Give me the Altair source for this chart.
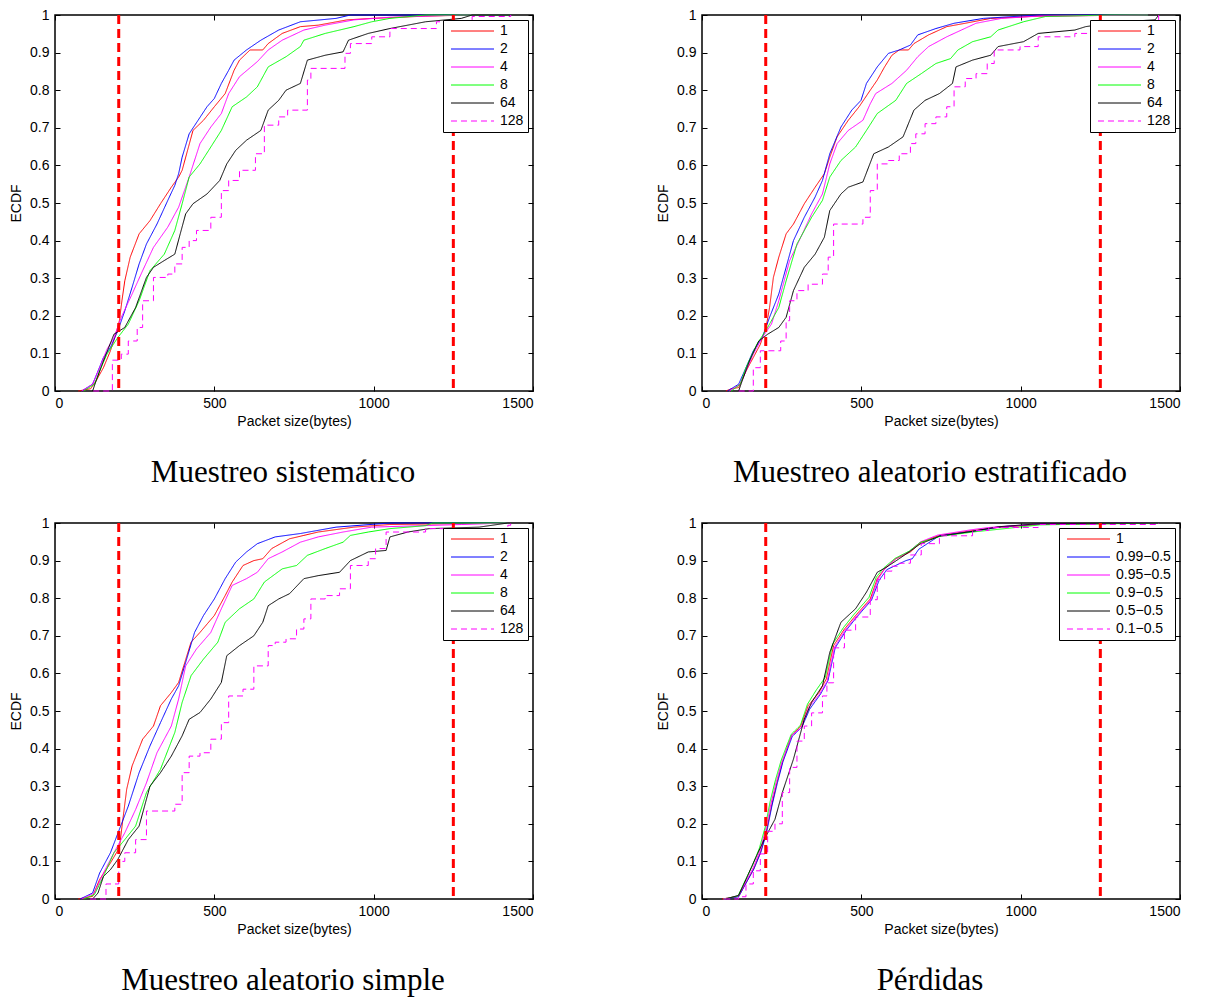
import altair as alt
import pandas as pd

# ---------------------------------------------------------------------------
# Legend labels, colours and dash styles
# ---------------------------------------------------------------------------
RATES = ["1", "2", "4", "8", "64", "128"]
LOSS = ["1", "0.99\u22120.5", "0.95\u22120.5", "0.9\u22120.5", "0.5\u22120.5", "0.1\u22120.5"]
COLORS = ["#ff0000", "#0000ff", "#ff00ff", "#00ff00", "#000000", "#ff00ff"]
DASHES = [[1, 0], [1, 0], [1, 0], [1, 0], [1, 0], [6, 4]]

THRESHOLDS = [200, 1250]          # packet-size limits drawn as dashed red lines
X_TICKS = [0, 500, 1000, 1500]
Y_TICKS = [0, 0.1, 0.2, 0.3, 0.4, 0.5, 0.6, 0.7, 0.8, 0.9, 1]

TITLES = ["Muestreo sistem\u00e1tico", "Muestreo aleatorio estratificado",
          "Muestreo aleatorio simple", "P\u00e9rdidas"]

# ---------------------------------------------------------------------------
# ECDF curves: (packet size in bytes, cumulative fraction)
# ---------------------------------------------------------------------------
# Systematic sampling
SYS_1 = [(73, 0), (112, 0.006), (129, 0.027), (152, 0.062), (174, 0.107), (191, 0.151), (202, 0.187),
         (210, 0.24), (219, 0.293), (236, 0.356), (264, 0.418), (298, 0.453), (331, 0.498), (365, 0.542),
         (388, 0.569), (399, 0.587), (416, 0.64), (433, 0.693), (466, 0.72), (500, 0.756), (534, 0.791),
         (562, 0.853), (579, 0.88), (612, 0.907), (652, 0.907), (669, 0.924), (713, 0.951), (770, 0.969),
         (826, 0.973), (916, 0.987), (994, 0.991), (1163, 0.997), (1309, 1.0), (1430, 1.0)]
SYS_2 = [(84, 0), (118, 0.018), (135, 0.053), (152, 0.089), (174, 0.116), (197, 0.16), (219, 0.213),
         (242, 0.276), (264, 0.338), (287, 0.391), (320, 0.444), (354, 0.507), (376, 0.547), (388, 0.578),
         (399, 0.622), (421, 0.684), (449, 0.72), (477, 0.756), (500, 0.778), (522, 0.818), (545, 0.853),
         (562, 0.88), (601, 0.907), (646, 0.933), (702, 0.96), (770, 0.982), (882, 0.991), (927, 1.0),
         (1430, 1.0)]
SYS_4 = [(84, 0), (118, 0.018), (140, 0.062), (163, 0.111), (185, 0.142), (208, 0.196), (242, 0.258),
         (275, 0.32), (309, 0.382), (354, 0.436), (388, 0.489), (421, 0.569), (455, 0.658), (489, 0.702),
         (522, 0.738), (545, 0.791), (579, 0.836), (635, 0.876), (669, 0.907), (713, 0.933), (781, 0.96),
         (848, 0.973), (938, 0.987), (1051, 0.994), (1275, 1.0), (1430, 1.0)]
SYS_8 = [(90, 0), (124, 0.018), (140, 0.053), (163, 0.098), (197, 0.142), (230, 0.178), (264, 0.24),
         (298, 0.32), (343, 0.364), (376, 0.427), (399, 0.498), (421, 0.569), (455, 0.604), (489, 0.649),
         (522, 0.693), (556, 0.756), (601, 0.782), (635, 0.809), (669, 0.862), (725, 0.889), (770, 0.916),
         (781, 0.933), (848, 0.951), (938, 0.969), (994, 0.982), (1051, 0.991), (1163, 1.0), (1430, 1.0)]
SYS_64 = [(118, 0), (129, 0.027), (152, 0.08), (185, 0.151), (219, 0.169), (253, 0.222), (287, 0.302),
          (309, 0.329), (343, 0.347), (376, 0.364), (393, 0.418), (410, 0.471), (433, 0.498), (477, 0.524),
          (517, 0.56), (539, 0.604), (567, 0.64), (601, 0.667), (646, 0.693), (669, 0.747), (702, 0.773),
          (725, 0.8), (770, 0.818), (792, 0.88), (848, 0.893), (904, 0.902), (921, 0.933), (983, 0.951),
          (1051, 0.964), (1163, 0.982), (1275, 0.991), (1309, 1.0), (1430, 1.0)]
SYS_128 = [(120, 0), (180, 0.082), (208, 0.098), (230, 0.133), (258, 0.169), (275, 0.24), (309, 0.302),
           (354, 0.311), (376, 0.338), (399, 0.382), (421, 0.4), (444, 0.427), (489, 0.462), (522, 0.533),
           (545, 0.56), (579, 0.587), (629, 0.631), (657, 0.707), (702, 0.729), (730, 0.747), (792, 0.827),
           (803, 0.858), (910, 0.898), (927, 0.924), (994, 0.942), (1051, 0.964), (1197, 0.982),
           (1309, 0.996), (1430, 1.0)]

# Stratified random sampling
STR_1 = [(75, 0), (92, 0.006), (115, 0.009), (138, 0.053), (161, 0.089), (183, 0.124), (201, 0.169),
         (212, 0.222), (224, 0.302), (241, 0.356), (264, 0.418), (287, 0.444), (321, 0.498), (355, 0.542),
         (384, 0.578), (401, 0.622), (424, 0.676), (459, 0.72), (493, 0.756), (528, 0.8), (550, 0.827),
         (573, 0.862), (596, 0.893), (619, 0.907), (648, 0.907), (665, 0.924), (711, 0.947), (768, 0.969),
         (826, 0.978), (906, 0.991), (1055, 0.997), (1400, 1.0)]
STR_2 = [(80, 0), (115, 0.018), (138, 0.062), (161, 0.107), (189, 0.142), (212, 0.196), (241, 0.258),
         (264, 0.329), (287, 0.4), (321, 0.462), (355, 0.516), (378, 0.56), (401, 0.631), (436, 0.702),
         (470, 0.747), (499, 0.773), (516, 0.818), (550, 0.862), (585, 0.898), (619, 0.907), (654, 0.92),
         (677, 0.947), (734, 0.964), (791, 0.978), (883, 0.991), (1055, 1.0), (1400, 1.0)]
STR_4 = [(86, 0), (120, 0.018), (138, 0.053), (161, 0.098), (189, 0.142), (218, 0.178), (241, 0.24),
         (275, 0.347), (310, 0.409), (344, 0.471), (378, 0.524), (401, 0.604), (424, 0.658), (459, 0.693),
         (505, 0.72), (528, 0.764), (545, 0.791), (596, 0.818), (642, 0.853), (677, 0.889), (711, 0.916),
         (768, 0.942), (814, 0.96), (860, 0.978), (940, 0.991), (1055, 0.997), (1399, 1.0)]
STR_8 = [(92, 0), (120, 0.018), (138, 0.062), (172, 0.124), (206, 0.169), (241, 0.222), (264, 0.293),
         (298, 0.391), (344, 0.462), (378, 0.507), (401, 0.569), (436, 0.613), (482, 0.649), (516, 0.693),
         (550, 0.738), (608, 0.773), (642, 0.818), (688, 0.844), (734, 0.871), (780, 0.884), (803, 0.907),
         (849, 0.929), (906, 0.942), (929, 0.96), (1009, 0.982), (1078, 0.996), (1284, 1.0), (1400, 1.0)]
STR_64 = [(115, 0), (126, 0.027), (149, 0.08), (178, 0.133), (206, 0.151), (241, 0.169), (264, 0.196),
          (287, 0.267), (321, 0.329), (355, 0.364), (384, 0.409), (401, 0.48), (436, 0.524), (459, 0.542),
          (505, 0.556), (539, 0.631), (585, 0.649), (631, 0.676), (665, 0.747), (700, 0.773), (745, 0.791),
          (786, 0.818), (797, 0.862), (849, 0.88), (906, 0.893), (929, 0.916), (1009, 0.929), (1055, 0.951),
          (1170, 0.96), (1204, 0.969), (1307, 0.982), (1422, 0.987), (1433, 1.0)]
STR_128 = [(115, 0), (161, 0.062), (183, 0.107), (247, 0.133), (264, 0.187), (275, 0.24), (298, 0.267),
           (333, 0.284), (378, 0.311), (396, 0.356), (413, 0.444), (505, 0.462), (528, 0.533), (550, 0.604),
           (585, 0.613), (619, 0.631), (654, 0.658), (671, 0.684), (700, 0.711), (734, 0.729), (768, 0.756),
           (791, 0.809), (826, 0.831), (860, 0.844), (895, 0.871), (917, 0.907), (998, 0.916), (1055, 0.942),
           (1170, 0.951), (1399, 0.982), (1433, 1.0)]

# Simple random sampling
SRS_1 = [(73, 0), (118, 0.007), (140, 0.052), (174, 0.096), (202, 0.136), (213, 0.212), (225, 0.292),
         (242, 0.354), (275, 0.425), (309, 0.46), (331, 0.514), (365, 0.549), (388, 0.576), (404, 0.62),
         (427, 0.683), (455, 0.709), (500, 0.754), (534, 0.807), (556, 0.843), (590, 0.887), (624, 0.9),
         (652, 0.905), (680, 0.932), (736, 0.958), (781, 0.967), (826, 0.976), (938, 0.989), (1051, 0.996),
         (1421, 1.0)]
SRS_2 = [(79, 0), (118, 0.016), (140, 0.069), (174, 0.123), (202, 0.185), (230, 0.247), (264, 0.336),
         (298, 0.407), (331, 0.469), (365, 0.532), (388, 0.567), (410, 0.629), (438, 0.709), (466, 0.754),
         (500, 0.798), (534, 0.852), (567, 0.896), (601, 0.923), (635, 0.945), (691, 0.963), (770, 0.972),
         (882, 0.989), (1051, 1.0), (1421, 1.0)]
SRS_4 = [(84, 0), (124, 0.016), (152, 0.069), (185, 0.123), (219, 0.176), (253, 0.238), (287, 0.309),
         (320, 0.389), (365, 0.46), (388, 0.532), (410, 0.62), (444, 0.665), (489, 0.709), (522, 0.772),
         (556, 0.834), (601, 0.852), (635, 0.869), (669, 0.905), (713, 0.923), (770, 0.949), (826, 0.963),
         (904, 0.976), (994, 0.989), (1275, 0.996), (1421, 1.0)]
SRS_8 = [(90, 0), (124, 0.012), (152, 0.06), (185, 0.123), (219, 0.158), (253, 0.194), (287, 0.283),
         (331, 0.345), (376, 0.443), (399, 0.523), (427, 0.594), (466, 0.638), (511, 0.683), (534, 0.736),
         (579, 0.772), (624, 0.798), (657, 0.843), (713, 0.878), (758, 0.887), (792, 0.914), (848, 0.932),
         (904, 0.949), (927, 0.967), (983, 0.976), (1051, 0.985), (1163, 0.993), (1185, 1.0), (1421, 1.0)]
SRS_64 = [(118, 0), (135, 0.016), (152, 0.06), (174, 0.078), (197, 0.105), (230, 0.158), (264, 0.194),
          (298, 0.3), (331, 0.336), (365, 0.38), (399, 0.434), (421, 0.478), (455, 0.496), (489, 0.532),
          (522, 0.576), (539, 0.647), (579, 0.674), (624, 0.7), (652, 0.736), (669, 0.78), (702, 0.798),
          (736, 0.812), (781, 0.852), (826, 0.86), (893, 0.869), (927, 0.9), (983, 0.923), (1039, 0.927),
          (1051, 0.963), (1107, 0.976), (1174, 0.985), (1331, 0.989), (1421, 1.0)]
SRS_128 = [(110, 0), (160, 0.04), (200, 0.1), (219, 0.123), (253, 0.158), (287, 0.234), (376, 0.252),
           (399, 0.336), (421, 0.38), (455, 0.389), (489, 0.425), (522, 0.469), (545, 0.54), (590, 0.558),
           (624, 0.62), (669, 0.674), (691, 0.683), (725, 0.692), (758, 0.718), (781, 0.745), (803, 0.798),
           (848, 0.807), (893, 0.825), (927, 0.887), (983, 0.905), (1006, 0.932), (1039, 0.976),
           (1163, 0.985), (1421, 0.994), (1430, 1.0)]

# Packet losses
LOSS_1 = [(63, 0), (115, 0.007), (138, 0.043), (161, 0.078), (183, 0.123), (201, 0.176), (218, 0.247),
          (235, 0.309), (252, 0.363), (281, 0.434), (310, 0.46), (333, 0.514), (367, 0.549), (390, 0.585),
          (413, 0.674), (447, 0.718), (482, 0.754), (528, 0.798), (550, 0.852), (573, 0.878), (608, 0.905),
          (654, 0.923), (688, 0.949), (745, 0.967), (849, 0.98), (940, 0.989), (1055, 0.996), (1433, 1.0)]
LOSS_099 = [(70, 0), (115, 0.006), (140, 0.045), (163, 0.08), (185, 0.125), (203, 0.178), (220, 0.25),
            (237, 0.31), (254, 0.365), (283, 0.432), (314, 0.458), (338, 0.505), (372, 0.545), (395, 0.58),
            (418, 0.668), (452, 0.714), (486, 0.75), (532, 0.795), (556, 0.848), (580, 0.876), (640, 0.9),
            (660, 0.905), (680, 0.93), (745, 0.966), (852, 0.978), (940, 0.99), (1055, 0.997), (1433, 1.0)]
LOSS_095 = [(66, 0), (114, 0.008), (137, 0.045), (160, 0.082), (182, 0.128), (199, 0.182), (216, 0.252),
            (233, 0.312), (251, 0.365), (282, 0.436), (311, 0.455), (334, 0.508), (369, 0.545), (393, 0.58),
            (416, 0.67), (449, 0.715), (485, 0.752), (530, 0.796), (552, 0.85), (575, 0.88), (610, 0.906),
            (652, 0.925), (686, 0.95), (740, 0.968), (845, 0.982), (900, 0.988), (1055, 0.997), (1433, 1.0)]
LOSS_09 = [(68, 0), (113, 0.008), (136, 0.05), (159, 0.09), (180, 0.135), (198, 0.19), (214, 0.26),
           (231, 0.318), (249, 0.37), (280, 0.438), (309, 0.462), (331, 0.518), (358, 0.555), (387, 0.59),
           (410, 0.678), (444, 0.722), (478, 0.758), (524, 0.802), (547, 0.856), (571, 0.881), (606, 0.906),
           (650, 0.925), (684, 0.948), (750, 0.965), (860, 0.977), (950, 0.985), (1060, 0.995), (1433, 1.0)]
LOSS_05 = [(75, 0), (115, 0.01), (138, 0.052), (161, 0.096), (195, 0.158), (229, 0.212), (252, 0.283),
           (287, 0.372), (321, 0.478), (344, 0.523), (378, 0.567), (401, 0.656), (436, 0.736), (482, 0.772),
           (516, 0.816), (550, 0.869), (578, 0.882), (610, 0.9), (650, 0.923), (684, 0.944), (745, 0.965),
           (850, 0.978), (930, 0.99), (1055, 0.998), (1433, 1.0)]
LOSS_01 = [(70, 0), (115, 0.006), (138, 0.04), (161, 0.075), (183, 0.12), (206, 0.18), (229, 0.2),
           (252, 0.283), (275, 0.35), (298, 0.42), (321, 0.46), (344, 0.495), (378, 0.54), (392, 0.575),
           (413, 0.668), (447, 0.715), (482, 0.75), (528, 0.796), (550, 0.85), (573, 0.872), (596, 0.885),
           (619, 0.893), (654, 0.915), (688, 0.945), (745, 0.966), (849, 0.98), (900, 0.988), (1055, 0.996),
           (1433, 1.0)]

PANELS = [
    (TITLES[0], RATES, [SYS_1, SYS_2, SYS_4, SYS_8, SYS_64, SYS_128]),
    (TITLES[1], RATES, [STR_1, STR_2, STR_4, STR_8, STR_64, STR_128]),
    (TITLES[2], RATES, [SRS_1, SRS_2, SRS_4, SRS_8, SRS_64, SRS_128]),
    (TITLES[3], LOSS, [LOSS_1, LOSS_099, LOSS_095, LOSS_09, LOSS_05, LOSS_01]),
]

SANS = "Liberation Sans"
SERIF = "Liberation Serif"


def tick_axis(orient, values):
    """Tick-only axis pulled 5px inside the frame so the ticks point inward."""
    return alt.Axis(orient=orient, offset=-5, values=values, labels=False, domain=False,
                    ticks=True, tickSize=5, tickColor="black", tickWidth=1, title=None, grid=False)


def panel(title, labels, curves):
    rows = []
    for k, (lab, pts) in enumerate(zip(labels, curves)):
        for x, y in pts:
            rows.append({"size": x, "ecdf": y, "serie": lab, "k": k})
    df = pd.DataFrame(rows)

    xs = alt.Scale(domain=[0, 1500], nice=False, zero=False)
    ys = alt.Scale(domain=[0, 1], nice=False, zero=False)

    legend = alt.Legend(orient="top-right", offset=5, title=None, symbolType="stroke",
                        symbolSize=1850, symbolStrokeWidth=1, symbolOffset=3, labelFont=SANS,
                        labelFontSize=14, labelColor="black", labelOffset=5, strokeColor="black",
                        fillColor="white", padding=4, rowPadding=4, clipHeight=14, cornerRadius=0)
    color = alt.Color("serie:N", scale=alt.Scale(domain=labels, range=COLORS), legend=legend)
    dash = alt.StrokeDash("serie:N", scale=alt.Scale(domain=labels, range=DASHES), legend=legend)

    x_main = alt.X("size:Q", scale=xs, axis=alt.Axis(
        orient="bottom", values=X_TICKS, format="d", title="Packet size(bytes)", domain=False,
        ticks=False, tickSize=0, labelPadding=5, titlePadding=4, grid=False))
    y_main = alt.Y("ecdf:Q", scale=ys, axis=alt.Axis(
        orient="left", values=Y_TICKS, format="~g", title="ECDF", domain=False, ticks=False,
        tickSize=0, labelPadding=6, titlePadding=6, grid=False))

    solid = alt.Chart(df).transform_filter(alt.datum.k < 5).mark_line(
        strokeWidth=1, interpolate="linear"
    ).encode(x=x_main, y=y_main, color=color, strokeDash=dash)

    dashed = alt.Chart(df).transform_filter(alt.datum.k == 5).mark_line(
        strokeWidth=1, interpolate="step-after"
    ).encode(x=alt.X("size:Q", scale=xs, axis=None), y=alt.Y("ecdf:Q", scale=ys, axis=None),
             color=color, strokeDash=dash)

    ticks_a = alt.Chart(df).mark_point(opacity=0, size=0).encode(
        x=alt.X("size:Q", scale=xs, axis=tick_axis("bottom", X_TICKS)),
        y=alt.Y("ecdf:Q", scale=ys, axis=tick_axis("left", Y_TICKS)))
    ticks_b = alt.Chart(df).mark_point(opacity=0, size=0).encode(
        x=alt.X("size:Q", scale=xs, axis=tick_axis("top", X_TICKS)),
        y=alt.Y("ecdf:Q", scale=ys, axis=tick_axis("right", Y_TICKS)))

    limits = alt.Chart(pd.DataFrame({"limit": THRESHOLDS})).mark_rule(
        color="#ff0000", strokeWidth=3, strokeDash=[9, 5]
    ).encode(x=alt.X("limit:Q", scale=xs, axis=None))

    return alt.layer(solid, dashed, ticks_a, ticks_b, limits).resolve_axis(
        x="independent", y="independent"
    ).properties(
        width=478, height=376,
        title=alt.TitleParams(title, orient="bottom", anchor="middle", dx=-11, font=SERIF,
                              fontSize=31, fontWeight="normal", color="black", offset=30),
    )


charts = [panel(*p) for p in PANELS]

chart = alt.concat(
    *charts, columns=2, spacing={"row": 132, "column": 169}, bounds="flush"
).resolve_scale(color="independent", strokeDash="independent").properties(
    padding={"left": 8, "top": 7, "right": 5, "bottom": 5}, background="white"
).configure_view(stroke="black", strokeWidth=1.5).configure_axis(
    labelFont=SANS, labelFontSize=14, labelColor="black", titleFont=SANS, titleFontSize=14,
    titleFontWeight="normal", titleColor="black"
)

chart.save("out.html", embed_options={"renderer": "svg", "actions": False})
